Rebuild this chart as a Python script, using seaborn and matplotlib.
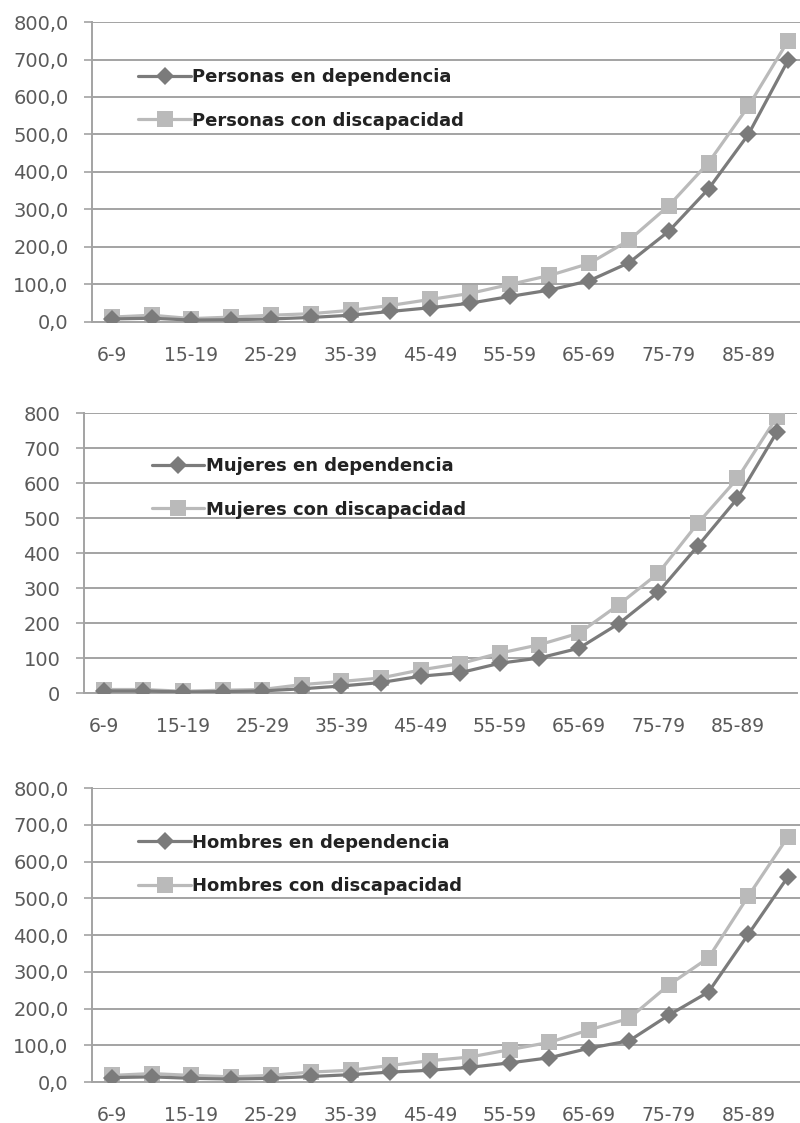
import pandas as pd
import numpy as np
import matplotlib
matplotlib.use('Agg')
import matplotlib.pyplot as plt
import seaborn as sns
from matplotlib.ticker import FixedLocator, FuncFormatter

# %%
edades = ['6-9', '10-14', '15-19', '20-24', '25-29', '30-34', '35-39', '40-44', '45-49',
          '50-54', '55-59', '60-64', '65-69', '70-74', '75-79', '80-84', '85-89', '90+']

personas_dep = [8, 10, 5, 6, 8, 12, 18, 28, 38, 50, 68, 85, 110, 158, 242, 355, 500, 698]
personas_disc = [13, 18, 9, 13, 18, 22, 31, 44, 60, 76, 100, 124, 156, 218, 310, 425, 575, 750]

mujeres_dep = [6, 6, 3, 4, 6, 12, 20, 30, 48, 58, 85, 100, 128, 198, 288, 420, 556, 746]
mujeres_disc = [10, 10, 5, 8, 10, 24, 33, 43, 66, 84, 114, 138, 171, 252, 342, 485, 613, 789]

hombres_dep = [12, 14, 10, 8, 10, 15, 20, 27, 32, 40, 52, 66, 92, 112, 182, 245, 402, 559]
hombres_disc = [18, 23, 18, 14, 18, 27, 32, 45, 58, 68, 88, 108, 142, 173, 264, 338, 506, 668]

# %%
c_dep = '#7b7b7b'
c_disc = '#bababa'
grid_c = '#a3a3a3'
txt_c = '#5a5a5a'

sns.set_style('white')
plt.rcParams['font.family'] = ['DejaVu Sans']

fig = plt.figure(figsize=(8, 11.23), dpi=100)

# nombre, dependencia, discapacidad, rect, decimales, legend x
paneles = [
    ('Personas', personas_dep, personas_disc, [0.115, 0.7133, 0.895, 0.2671], True, 0.042),
    ('Mujeres', mujeres_dep, mujeres_disc, [0.105, 0.3829, 0.891, 0.2493], False, 0.072),
    ('Hombres', hombres_dep, hombres_disc, [0.115, 0.0365, 0.895, 0.2618], True, 0.042),
]

for nombre, dep, disc, rect, decimal, lx in paneles:
    ax = fig.add_axes(rect)
    lab_dep = f'{nombre} en dependencia'
    lab_disc = f'{nombre} con discapacidad'
    df = pd.DataFrame({
        'edad': edades * 2,
        'valor': dep + disc,
        'serie': [lab_dep] * len(edades) + [lab_disc] * len(edades),
    })
    sns.lineplot(data=df, x='edad', y='valor', hue='serie', style='serie',
                 palette={lab_dep: c_dep, lab_disc: c_disc},
                 markers={lab_dep: 'D', lab_disc: 's'}, dashes=False,
                 sort=False, linewidth=2.3, markeredgewidth=0, ax=ax)
    for ln in ax.lines:
        if ln.get_marker() == 's':
            ln.set_markersize(12)
        else:
            ln.set_markersize(9)
    ax.lines[0].set_zorder(4)

    ax.set_xlim(-0.5, len(edades) - 0.5)
    ax.set_ylim(0, 800)
    ax.set_yticks(np.arange(0, 801, 100))
    if decimal:
        ax.yaxis.set_major_formatter(FuncFormatter(lambda v, p: f'{v:.1f}'.replace('.', ',')))
    else:
        ax.yaxis.set_major_formatter(FuncFormatter(lambda v, p: f'{v:.0f}'))
    ax.set_xticks(range(0, len(edades), 2))
    ax.set_xticklabels(edades[::2])
    ax.xaxis.set_minor_locator(FixedLocator(np.arange(0.5, len(edades) - 0.5, 1)))
    ax.tick_params(axis='x', which='major', length=0, pad=17, labelsize=13.5, labelcolor=txt_c)
    ax.tick_params(axis='x', which='minor', length=5, width=1.2, color=grid_c, direction='out')
    ax.tick_params(axis='y', length=6, width=1.2, color=grid_c, labelsize=14,
                   labelcolor=txt_c, pad=11, left=True)
    ax.grid(axis='y', color=grid_c, linewidth=1.4)
    ax.set_axisbelow(True)
    for s in ['top', 'right']:
        ax.spines[s].set_visible(False)
    for s in ['left', 'bottom']:
        ax.spines[s].set_color(grid_c)
        ax.spines[s].set_linewidth(1.4)
    ax.set_xlabel('')
    ax.set_ylabel('')

    leg = ax.legend(loc='upper left', bbox_to_anchor=(lx, 0.9), frameon=False,
                    handlelength=2.9, labelspacing=1.4, handletextpad=0.1,
                    prop={'size': 13, 'weight': 'bold'})
    for t in leg.get_texts():
        t.set_color('#222222')

fig.savefig('out.png', dpi=100)
